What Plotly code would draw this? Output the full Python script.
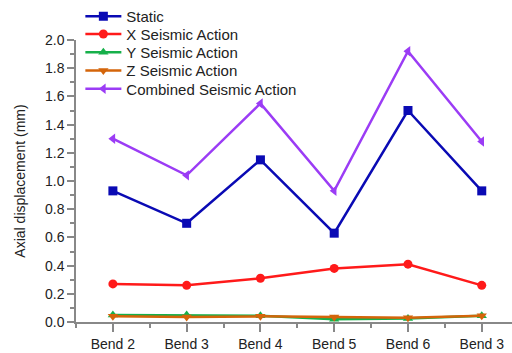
import plotly.graph_objects as go

categories = ["Bend 2", "Bend 3", "Bend 4", "Bend 5", "Bend 6", "Bend 3"]
static = [0.93, 0.70, 1.15, 0.63, 1.50, 0.93]
x_seismic = [0.27, 0.26, 0.31, 0.38, 0.41, 0.26]
y_seismic = [0.05, 0.05, 0.045, 0.02, 0.025, 0.045]
z_seismic = [0.04, 0.035, 0.04, 0.035, 0.03, 0.045]
combined = [1.30, 1.04, 1.55, 0.93, 1.92, 1.28]

positions = list(range(len(categories)))

series = [
    ("Static", static, "#0a0ab4", "square"),
    ("X Seismic Action", x_seismic, "#ff1a1a", "circle"),
    ("Y Seismic Action", y_seismic, "#16b04a", "triangle-up"),
    ("Z Seismic Action", z_seismic, "#d4650a", "triangle-down"),
    ("Combined Seismic Action", combined, "#9b3cf5", "triangle-left"),
]

# plot area geometry (pixels) used to place the stacked legend rows
TOP, BOTTOM, LEFT = 40, 31, 76
HEIGHT = 353
plot_h = HEIGHT - TOP - BOTTOM
row_centers = [16, 34.3, 52.5, 70.8, 89]

legend_font = dict(family="Liberation Sans, Arial", size=15, color="#222")
axis_font = dict(family="Liberation Sans, Arial", size=14, color="#222")

fig = go.Figure()
layout_legends = {}
for i, (name, vals, color, sym) in enumerate(series):
    key = "legend" if i == 0 else f"legend{i + 1}"
    fig.add_trace(go.Scatter(
        x=positions, y=vals, name=name, mode="lines+markers",
        line=dict(color=color, width=2.5),
        marker=dict(symbol=sym, size=9, color=color),
        legend=key,
    ))
    layout_legends[key] = dict(
        x=0.01, y=1 + (TOP - row_centers[i]) / plot_h,
        xanchor="left", yanchor="middle",
        bgcolor="rgba(0,0,0,0)", font=legend_font,
        itemwidth=36,
    )

fig.update_layout(
    width=512, height=HEIGHT,
    margin=dict(l=LEFT, r=0, t=TOP, b=BOTTOM),
    paper_bgcolor="white", plot_bgcolor="white",
    font=axis_font,
    showlegend=True,
    xaxis=dict(
        range=[-0.5, 5.41],
        tickvals=positions, ticktext=categories,
        showgrid=False, zeroline=False,
        showline=True, linecolor="#888", linewidth=1.5,
        ticks="outside", ticklen=8, tickcolor="#888", tickwidth=1.5,
        minor=dict(dtick=0.5, tick0=0.5, ticks="outside", ticklen=4,
                   tickcolor="#888", tickwidth=1.5),
        tickfont=axis_font,
    ),
    yaxis=dict(
        range=[0, 2.0],
        dtick=0.2, tickformat=".1f",
        showgrid=False, zeroline=False,
        showline=True, linecolor="#888", linewidth=1.5,
        ticks="outside", ticklen=7, tickcolor="#888", tickwidth=1.5,
        minor=dict(dtick=0.1, ticks="outside", ticklen=4,
                   tickcolor="#888", tickwidth=1.5),
        tickfont=axis_font,
        title=dict(text="Axial displacement (mm)", font=axis_font, standoff=16),
    ),
    **layout_legends,
)

fig.write_html("out.html")
